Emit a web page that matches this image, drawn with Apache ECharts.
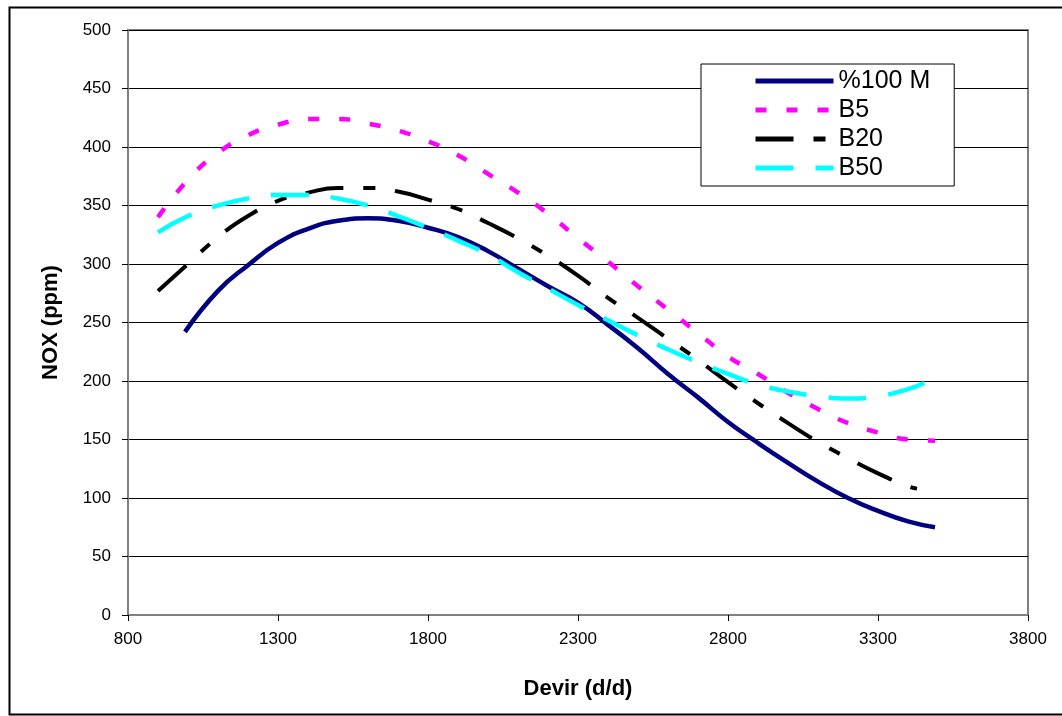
<!DOCTYPE html>
<html>
<head>
<meta charset="utf-8">
<script src="https://cdn.jsdelivr.net/npm/echarts@6/dist/echarts.min.js"></script>
<style>
html,body{margin:0;padding:0;background:#fff;}
#chart{width:1062px;height:716px;}
</style>
</head>
<body>
<div id="chart"></div>
<script>
const seriesNames = ['%100 M', 'B5', 'B20', 'B50'];
const xTicks = [800, 1300, 1800, 2300, 2800, 3300, 3800];

const m100X = [990, 1100, 1200, 1300, 1400, 1500, 1600, 1700, 1800, 1900, 2000, 2100, 2200, 2300, 2400, 2500, 2600, 2700, 2800, 2900, 3000, 3100, 3200, 3300, 3400, 3490];
const m100Y = [242, 277, 299, 318, 330, 337, 339, 337, 331, 323, 311, 296, 281, 267, 248, 228, 206, 186, 165, 147, 130, 114, 100, 89, 80, 75];

const b5X = [900, 1000, 1100, 1200, 1300, 1400, 1500, 1600, 1700, 1800, 1900, 2000, 2100, 2200, 2300, 2400, 2500, 2600, 2700, 2800, 2900, 3000, 3100, 3200, 3300, 3400, 3490];
const b5Y = [340, 372, 395, 410, 419, 424, 424, 420, 414, 405, 393, 377, 361, 343, 322, 302, 281, 261, 241, 221, 206, 190, 176, 164, 156, 150, 149];

const b20X = [900, 1000, 1100, 1200, 1300, 1400, 1500, 1600, 1700, 1800, 1900, 2000, 2100, 2200, 2300, 2400, 2500, 2600, 2700, 2800, 2900, 3000, 3100, 3200, 3300, 3400, 3430];
const b20Y = [277, 300, 323, 341, 354, 361, 365, 365, 362, 355, 347, 335, 322, 307, 290, 271, 254, 236, 218, 199, 181, 164, 148, 134, 121, 110, 108];

const b50X = [900, 1000, 1100, 1200, 1300, 1400, 1500, 1600, 1700, 1800, 1900, 2000, 2100, 2200, 2300, 2400, 2500, 2600, 2700, 2800, 2900, 3000, 3100, 3200, 3300, 3400, 3460];
const b50Y = [327, 341, 350, 356, 359, 359, 356, 350, 341, 331, 320, 308, 293, 279, 265, 252, 239, 227, 216, 206, 197, 191, 187, 185, 187, 193, 199];

function pairs(xs, ys) { return xs.map((x, i) => [x, ys[i]]); }

const chart = echarts.init(document.getElementById('chart'), null, {renderer: 'canvas'});
const FONT = '"Liberation Sans", Arial, sans-serif';

const styles = [
  { color: '#000080', width: 4.5, type: 'solid', lw: 5 },
  { color: '#FF00FF', width: 4.5, type: [11, 20], lw: 5 },
  { color: '#000000', width: 4, type: [38, 20, 12, 20], lw: 5 },
  { color: '#00FFFF', width: 4.5, type: [38, 22], lw: 5 }
];
const xsAll = [m100X, b5X, b20X, b50X];
const ysAll = [m100Y, b5Y, b20Y, b50Y];

const option = {
  animation: false,
  backgroundColor: '#ffffff',
  grid: {
    left: 128, right: 34, top: 30, bottom: 101,
    show: true, borderColor: '#808080', borderWidth: 2, backgroundColor: 'transparent'
  },
  xAxis: {
    type: 'value', min: 800, max: 3800, interval: 500,
    name: 'Devir (d/d)', nameLocation: 'middle', nameGap: 63,
    nameTextStyle: { fontFamily: FONT, fontSize: 22, fontWeight: 'bold', color: '#000' },
    axisLine: { show: true, lineStyle: { color: '#808080', width: 2 } },
    axisTick: { show: true, inside: false, length: 6, lineStyle: { color: '#000', width: 1 } },
    axisLabel: { fontFamily: FONT, fontSize: 17, color: '#000', margin: 16, formatter: v => String(v) },
    splitLine: { show: false }
  },
  yAxis: {
    type: 'value', min: 0, max: 500, interval: 50,
    name: 'NOX (ppm)', nameLocation: 'middle', nameGap: 66, nameRotate: 90,
    nameTextStyle: { fontFamily: FONT, fontSize: 22, fontWeight: 'bold', color: '#000' },
    axisLine: { show: true, lineStyle: { color: '#808080', width: 2 } },
    axisTick: { show: true, inside: false, length: 6, lineStyle: { color: '#000', width: 1 } },
    axisLabel: { fontFamily: FONT, fontSize: 17, color: '#000', margin: 17, formatter: v => String(v) },
    splitLine: { show: true, lineStyle: { color: '#000', width: 1 } }
  },
  legend: {
    orient: 'vertical',
    left: 701, top: 64,
    padding: [4, 24, 5, 52],
    backgroundColor: '#fff',
    borderColor: '#000', borderWidth: 1,
    itemWidth: 78, itemHeight: 14, itemGap: 3,
    textStyle: { fontFamily: FONT, fontSize: 25, color: '#000', lineHeight: 26 },
    selectedMode: false,
    itemStyle: { opacity: 0 },
    data: seriesNames.map((n, i) => ({
      name: n,
      itemStyle: { opacity: 0 },
      lineStyle: { color: styles[i].color, width: styles[i].lw, type: styles[i].type, cap: 'butt' }
    }))
  },
  graphic: [{
    type: 'rect', left: 7, top: 5, silent: true,
    shape: { x: 0, y: 0, width: 1100, height: 707 },
    style: { fill: 'none', stroke: '#000', lineWidth: 2 }
  }],
  series: seriesNames.map((n, i) => ({
    name: n,
    type: 'line',
    data: pairs(xsAll[i], ysAll[i]),
    smooth: 0.5,
    symbol: 'none',
    showSymbol: false,
    lineStyle: { color: styles[i].color, width: styles[i].width, type: styles[i].type, cap: 'butt' },
    itemStyle: { color: styles[i].color },
    emphasis: { disabled: true },
    z: 3
  }))
};
chart.setOption(option);
</script>
</body>
</html>
